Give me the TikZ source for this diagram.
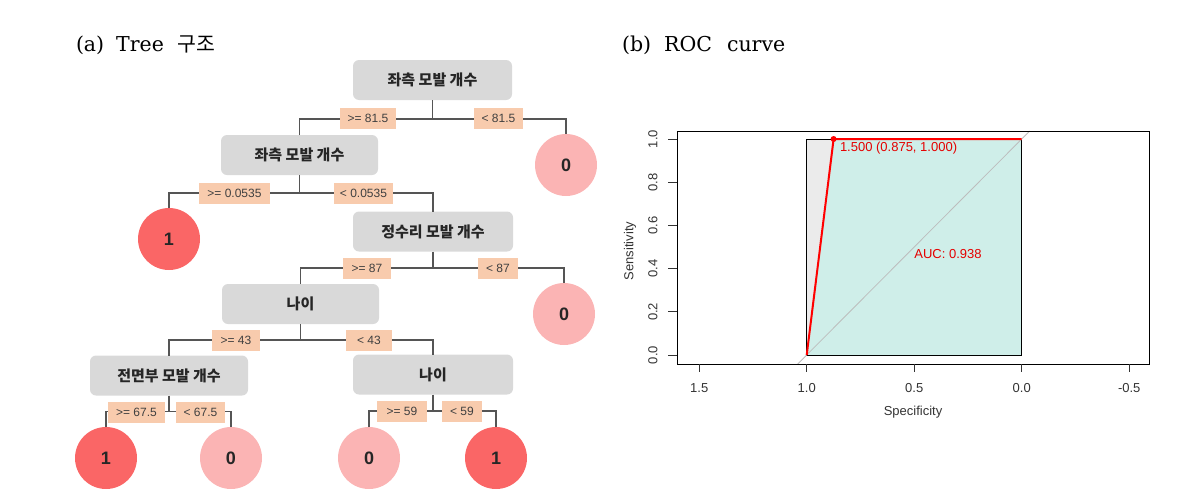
\documentclass[tikz,border=0pt]{standalone}
\usepackage{fontspec}
\setmainfont{DejaVu Serif}
\newfontfamily\kr{Noto Sans CJK KR}
\newfontfamily\arial{Liberation Sans}
\newfontfamily\titlefont{DejaVu Serif}
\definecolor{boxgray}{HTML}{D9D9D9}
\definecolor{peach}{HTML}{F8CBAD}
\definecolor{leafred}{HTML}{FA6666}
\definecolor{leafpink}{HTML}{FBB4B4}
\definecolor{linegray}{HTML}{555555}
\definecolor{maxgray}{HTML}{EBEBEB}
\definecolor{aucteal}{HTML}{CFEEE9}
\definecolor{diaggray}{HTML}{BDBDBD}
\definecolor{axistext}{HTML}{333333}
\begin{document}
\begin{tikzpicture}[x=1pt,y=-1pt,
  every node/.style={inner sep=0pt,outer sep=0pt},
  splitbox/.style={fill=boxgray,rounded corners=6pt,minimum width=#1,minimum height=40pt,
    font=\kr\bfseries\fontsize{15}{16}\selectfont,text=black!85},
  leafone/.style={circle,fill=leafred,minimum size=62pt,font=\arial\bfseries\fontsize{18}{20}\selectfont,text=black!85},
  leafzero/.style={circle,fill=leafpink,minimum size=62pt,font=\arial\bfseries\fontsize{18}{20}\selectfont,text=black!85},
  cond/.style={fill=peach,minimum width=#1,minimum height=21pt,font=\arial\fontsize{12}{13}\selectfont,text=black!75},
  conn/.style={draw=linegray,line width=1.2pt},
  ticklab/.style={font=\arial\fontsize{13}{14}\selectfont,text=axistext},
  roctext/.style={font=\arial\fontsize{13}{14}\selectfont,text=red!90!black}]
\useasboundingbox (0,0) rectangle (1182,498);

% titles
\node[anchor=base west] (ta) at (76,51) {\titlefont\fontsize{20.5}{24}\selectfont (a)\hspace{12pt}Tree\hspace{14pt}{\kr 구조}};
\node[anchor=base west] (tb) at (622,51) {\titlefont\fontsize{20.5}{24}\selectfont (b)\hspace{13pt}ROC\hspace{15pt}curve};

% tree nodes
\node[splitbox=159] (root) at (432.5,80) {좌측 모발 개수};
\node[splitbox=157] (box2) at (299.5,155) {좌측 모발 개수};
\node[leafzero] (leafB) at (566,165) {0};
\node[leafone] (leafA) at (169,239) {1};
\node[splitbox=160] (box3) at (433,231.5) {정수리 모발 개수};
\node[leafzero] (leafC) at (564,314) {0};
\node[splitbox=157] (box4) at (300.5,304) {나이};
\node[splitbox=158] (box5) at (169,375.5) {전면부 모발 개수};
\node[splitbox=160] (box6) at (433,374.5) {나이};
\node[leafone] (l1) at (106,458) {1};
\node[leafzero] (l2) at (231,458) {0};
\node[leafzero] (l3) at (369,458) {0};
\node[leafone] (l4) at (496,458) {1};

% connectors
\draw[conn] (root.south) -- ++(0,19) coordinate (j1);
\draw[conn] (box2.north) |- (j1) -| (leafB.north);
\draw[conn] (box2.south) -- ++(0,18) coordinate (j2);
\draw[conn] (leafA.north) |- (j2) -| (box3.north);
\draw[conn] (box3.south) -- ++(0,16.5) coordinate (j3);
\draw[conn] (box4.north) |- (j3) -| (leafC.north);
\draw[conn] (box4.south) -- ++(0,16) coordinate (j4);
\draw[conn] (box5.north) |- (j4) -| (box6.north);
\draw[conn] (box5.south) -- ++(0,16) coordinate (j5);
\draw[conn] (l1.north) |- (j5) -| (l2.north);
\draw[conn] (box6.south) -- ++(0,16.5) coordinate (j6);
\draw[conn] (l3.north) |- (j6) -| (l4.north);

% condition labels
\node[cond=56] (c1) at (368,118) {>= 81.5};
\node[cond=49] (c2) at (498.5,118) {< 81.5};
\node[cond=71] (c3) at (234.5,193) {>= 0.0535};
\node[cond=59] (c4) at (363.5,193) {< 0.0535};
\node[cond=48] (c5) at (367,268) {>= 87};
\node[cond=40] (c6) at (498,268) {< 87};
\node[cond=48] (c7) at (236,340) {>= 43};
\node[cond=46] (c8) at (369,340) {< 43};
\node[cond=57] (c9) at (136.5,412) {>= 67.5};
\node[cond=49] (c10) at (200.5,412) {< 67.5};
\node[cond=50] (c11) at (402,411.5) {>= 59};
\node[cond=40] (c12) at (462,411.5) {< 59};

% ROC plot
\fill[maxgray] (806.7,139) rectangle (1021.7,355);
\fill[aucteal] (806.7,355) -- (833.6,139) -- (1021.7,139) -- (1021.7,355) -- cycle;
\draw[black,line width=0.8pt] (806.7,139) rectangle (1021.7,355);
\draw[diaggray,line width=0.8pt] (797.7,364) -- (1029.7,131);
\draw[red,line width=2pt,line join=round] (806.7,355) -- (833.6,139) -- (1021.7,139);
\fill[red] (833.6,139) circle (3);
\draw[black,line width=0.8pt] (677,131) rectangle (1149,364);
\foreach \v/\t in {1.5/1.5,1.0/1.0,0.5/0.5,0.0/0.0,-0.5/-0.5}{
  \draw[black!80,line width=0.8pt] ({1021.7-215*\v},364) -- ({1021.7-215*\v},372);
  \node[ticklab] (xt\t) at ({1021.7-215*\v},388) {\t};
}
\foreach \v/\t in {0.0/0.0,0.2/0.2,0.4/0.4,0.6/0.6,0.8/0.8,1.0/1.0}{
  \draw[black!80,line width=0.8pt] (677,{355-216*\v}) -- (668,{355-216*\v});
  \node[ticklab,rotate=90] (yt\t) at (653,{355-216*\v}) {\t};
}
\node[ticklab,rotate=90] (ylab) at (630,251) {Sensitivity};
\node[ticklab] (xlab) at (913,412) {Specificity};
\node[roctext,anchor=west] (thr) at (840,148) {1.500 (0.875, 1.000)};
\node[roctext] (auc) at (948,254) {AUC: 0.938};
\end{tikzpicture}
\end{document}
